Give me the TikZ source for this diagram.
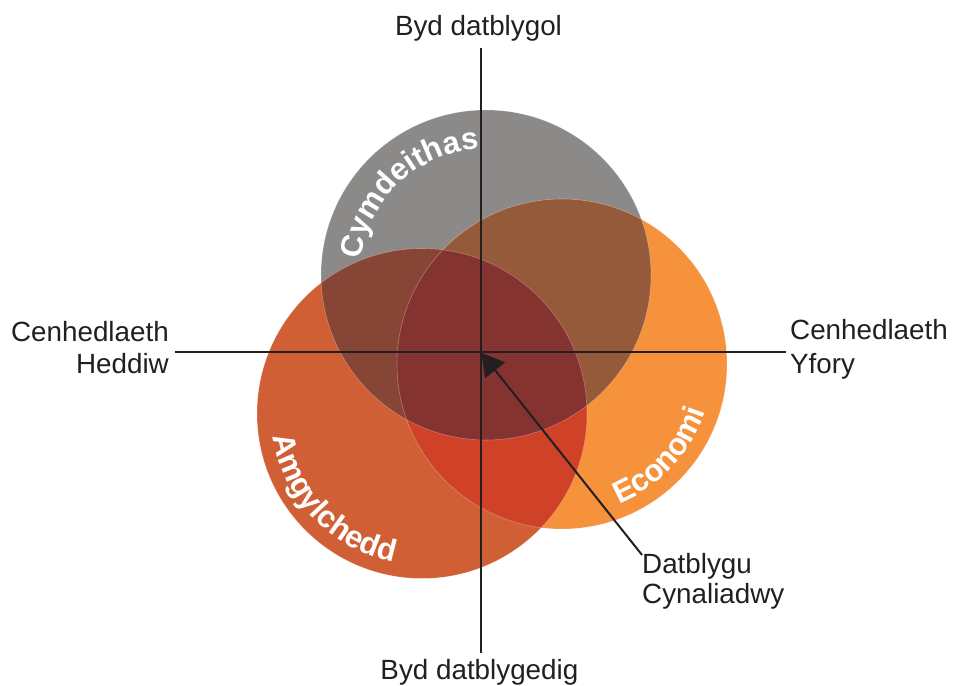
\documentclass[tikz,border=0pt]{standalone}
\usepackage{fontspec}
\setmainfont{Liberation Sans}
\usetikzlibrary{arrows.meta,decorations.text}
\definecolor{cgray}{HTML}{8B8A88}
\definecolor{corange}{HTML}{F6913C}
\definecolor{cred}{HTML}{D15F35}
\definecolor{cgo}{HTML}{945A3A}
\definecolor{cgr}{HTML}{864535}
\definecolor{cro}{HTML}{CF4227}
\definecolor{call}{HTML}{853331}
\definecolor{txt}{HTML}{231F20}
\tikzset{
  lbl/.style={font=\fontsize{27.8}{32}\selectfont, text=txt, inner sep=0pt},
  axisline/.style={draw=txt, line width=2pt},
  arr/.style={draw=txt, line width=2pt, -{Triangle[length=22pt,width=25pt]}},
  edge/.style={draw=white, draw opacity=0.3, line width=0.6pt},
}
\newcommand{\gcirc}{(486,411) circle[radius=165pt]}
\newcommand{\ocirc}{(562,322) circle[radius=165pt]}
\newcommand{\rcirc}{(422,272.5) circle[radius=165pt]}
\begin{document}
\begin{tikzpicture}[x=1pt,y=1pt]
\useasboundingbox (0,0) rectangle (954,686);
% base circles
\fill[cgray] \gcirc;
\fill[corange] \ocirc;
\fill[cred] \rcirc;
% overlaps
\begin{scope}
  \clip \gcirc;
  \fill[cgo] \ocirc;
  \fill[cgr] \rcirc;
\end{scope}
\begin{scope}
  \clip \rcirc;
  \fill[cro] \ocirc;
\end{scope}
\begin{scope}
  \clip \gcirc;
  \clip \rcirc;
  \fill[call] \ocirc;
\end{scope}
\path[edge] \gcirc;
\path[edge] \ocirc;
\path[edge] \rcirc;
% curved labels
\path[shift={(486,411)}, decorate, decoration={text along path, text align=center, text color=white,
  text={|\fontsize{31}{36}\selectfont\bfseries|Cymdeithas}}]
  (180:126pt) arc[start angle=180, end angle=86, radius=126pt];
\path[shift={(562,322)}, decorate, decoration={text along path, text align=center, text color=white,
  text={|\fontsize{31}{36}\selectfont\bfseries|Economi}}]
  (-79:151pt) arc[start angle=-79, end angle=-7, radius=151pt];
\path[shift={(422,272.5)}, decorate, decoration={text along path, text align=center, text color=white,
  text={|\fontsize{31}{36}\selectfont\bfseries|Amgylchedd}}]
  (176:151pt) arc[start angle=176, end angle=272, radius=151pt];
% axes
\coordinate (vt) at (481,638);
\coordinate (vb) at (481,33);
\coordinate (hl) at (175,334);
\coordinate (hr) at (786,334);
\coordinate (origin) at (481.5,333);
\draw[axisline] (vt) -- (vb);
\draw[axisline] (hl) -- (hr);
% labels
\node[lbl, anchor=base] (top) at (478.5,650.3) {Byd datblygol};
\node[lbl, anchor=base] (bot) at (479.4,6) {Byd datblygedig};
\node[lbl, anchor=base east] (lh1) at (169,344.3) {Cenhedlaeth};
\node[lbl, anchor=base east] (lh2) at (169,312) {Heddiw};
\node[lbl, anchor=base west] (rt1) at (790,346) {Cenhedlaeth};
\node[lbl, anchor=base west] (rt2) at (790,312.7) {Yfory};
\node[lbl, anchor=base west] (dat1) at (642,112.7) {Datblygu};
\node[lbl, anchor=base west] (dat2) at (642,82) {Cynaliadwy};
% arrow
\draw[arr] ([yshift=-2pt]dat1.north west) -- (origin);
\end{tikzpicture}
\end{document}
